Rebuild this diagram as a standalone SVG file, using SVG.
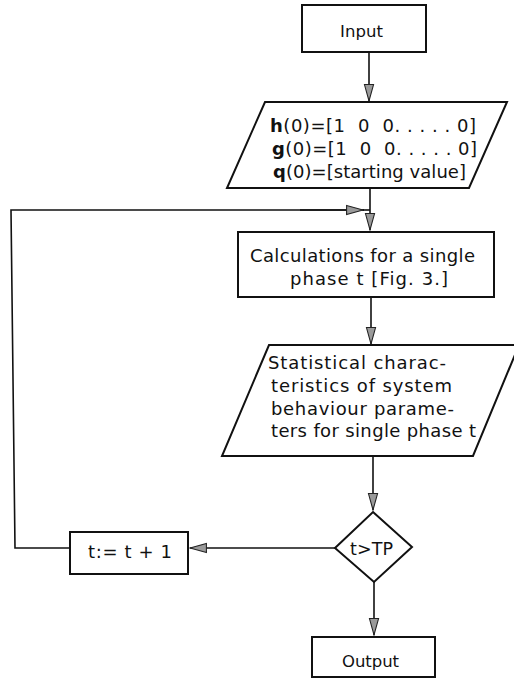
<svg xmlns="http://www.w3.org/2000/svg" width="514" height="678" viewBox="0 0 514 678">
<style>
.box{fill:#fff;stroke:#111;stroke-width:2}
.ln{fill:none;stroke:#111;stroke-width:1.6}
.t{font-family:"DejaVu Sans","Liberation Sans",sans-serif;font-size:18px;fill:#111}
.s{font-size:16.5px}
.b{font-weight:bold}
</style>
<defs>
<marker id="ah" markerUnits="userSpaceOnUse" markerWidth="18" markerHeight="12" viewBox="0 0 17 11" refX="16" refY="5.5" orient="auto">
<path d="M0.5,1.2 L16,5.5 L0.5,9.8 Z" fill="#9a9a9a" stroke="#222" stroke-width="1"/>
</marker>
</defs>
<rect width="514" height="678" fill="#fff"/>
<g id="connectors">
<path class="ln" d="M369,52 V101" marker-end="url(#ah)"/>
<path class="ln" d="M370,188 V230" marker-end="url(#ah)"/>
<path class="ln" d="M70,548 H15 L11,210 H364"/>
<path class="ln" d="M300,210 H363" marker-end="url(#ah)"/>
<path class="ln" d="M363,210 H370"/>
<path class="ln" d="M371,297 V344" marker-end="url(#ah)"/>
<path class="ln" d="M373,456 V510" marker-end="url(#ah)"/>
<path class="ln" d="M335,548 H190" marker-end="url(#ah)"/>
<path class="ln" d="M374,582 V635" marker-end="url(#ah)"/>
</g>
<g id="input">
<rect class="box" x="302" y="5" width="124" height="47"/>
<text class="t s" x="340" y="37" textLength="43" lengthAdjust="spacing">Input</text>
</g>
<g id="init">
<polygon class="box" points="265,102 507,102 469,188 227,188"/>
<text class="t" x="270" y="132" textLength="206" lengthAdjust="spacing" xml:space="preserve"><tspan class="b">h</tspan>(0)=[1  0  0. . . . . 0]</text>
<text class="t" x="272" y="155" textLength="205" lengthAdjust="spacing" xml:space="preserve"><tspan class="b">g</tspan>(0)=[1  0  0. . . . . 0]</text>
<text class="t" x="273" y="178" textLength="193" lengthAdjust="spacing" xml:space="preserve"><tspan class="b">q</tspan>(0)=[starting value]</text>
</g>
<g id="calc">
<rect class="box" x="238" y="232" width="256" height="65"/>
<text class="t" x="250" y="262" textLength="225" lengthAdjust="spacing">Calculations for a single</text>
<text class="t" x="290" y="285" textLength="158" lengthAdjust="spacing">phase t [Fig. 3.]</text>
</g>
<g id="stats">
<polygon class="box" points="269,345 519,345 473,456 222,456"/>
<text class="t" x="268" y="369" textLength="178" lengthAdjust="spacing">Statistical charac-</text>
<text class="t" x="271" y="392" textLength="181" lengthAdjust="spacing">teristics of system</text>
<text class="t" x="271" y="415" textLength="183" lengthAdjust="spacing">behaviour parame-</text>
<text class="t" x="271" y="437" textLength="205" lengthAdjust="spacing">ters for single phase t</text>
</g>
<g id="decision">
<polygon class="box" points="373,512 412,547 374,582 335,548"/>
<text class="t" x="350" y="555" textLength="43" lengthAdjust="spacing" style="font-size:17.5px">t&gt;TP</text>
</g>
<g id="increment">
<rect class="box" x="70" y="532" width="118" height="42"/>
<text class="t" x="88" y="558" textLength="84" lengthAdjust="spacing">t:= t + 1</text>
</g>
<g id="output">
<rect class="box" x="312" y="637" width="123" height="40"/>
<text class="t s" x="342" y="667" textLength="57" lengthAdjust="spacing">Output</text>
</g>
</svg>
